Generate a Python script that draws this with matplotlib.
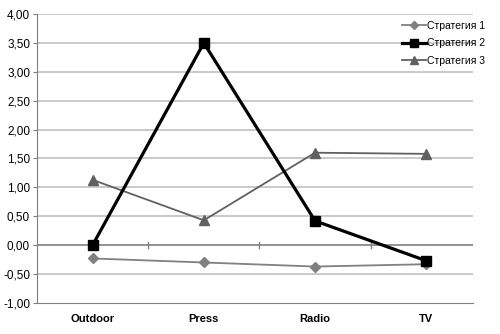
import matplotlib.pyplot as plt
import numpy as np

plt.rcParams['font.family'] = ['Liberation Sans', 'DejaVu Sans']

categories = ['Outdoor', 'Press', 'Radio', 'TV']
strategy1 = [-0.23, -0.30, -0.37, -0.33]
strategy2 = [0.00, 3.50, 0.42, -0.27]
strategy3 = [1.13, 0.43, 1.60, 1.58]
series_names = ['Стратегия 1', 'Стратегия 2', 'Стратегия 3']

x = np.arange(len(categories))

fig = plt.figure(figsize=(5, 3.34), dpi=100)
ax = fig.add_axes([0.074, 0.093, 0.872, 0.865])

yticks = np.arange(-1.0, 4.01, 0.5)
for v in yticks:
    if abs(v) < 1e-9 or v < -0.99:
        continue
    ax.axhline(v, color='#c0c0c0', lw=1.2, zorder=0)
ax.axhline(0, color='#808080', lw=1.2, zorder=1)
for b in x[:-1] + 0.5:
    ax.plot([b, b], [-0.05, 0.05], color='#808080', lw=1, zorder=1)

ax.plot(x, strategy1, color='#808080', lw=1.3, marker='D', ms=5,
        label=series_names[0], zorder=3)
ax.plot(x, strategy2, color='black', lw=2.3, marker='s', ms=6.5,
        label=series_names[1], zorder=4)
ax.plot(x, strategy3, color='#606060', lw=1.3, marker='^', ms=7,
        label=series_names[2], zorder=3)

ax.set_xlim(-0.5, 3.42)
ax.set_ylim(-1.0, 4.0)
ax.set_yticks(yticks)
ax.yaxis.set_major_formatter(plt.FuncFormatter(lambda v, p: ('%.2f' % v).replace('.', ',')))
ax.set_xticks(x)
ax.set_xticklabels(categories, fontweight='bold', fontsize=8)
ax.tick_params(axis='x', length=0, pad=8)
ax.tick_params(axis='y', labelsize=8.5, length=3, color='#808080', pad=2)

for s in ['top', 'right']:
    ax.spines[s].set_visible(False)
ax.spines['left'].set_color('#808080')
ax.spines['bottom'].set_color('#808080')

ax.legend(loc='upper right', bbox_to_anchor=(1.05, 1.01), frameon=False,
          fontsize=7.5, handlelength=2.3, handletextpad=0.1, labelspacing=0.75,
          markerscale=0.8)

plt.savefig('out.png', dpi=100)
